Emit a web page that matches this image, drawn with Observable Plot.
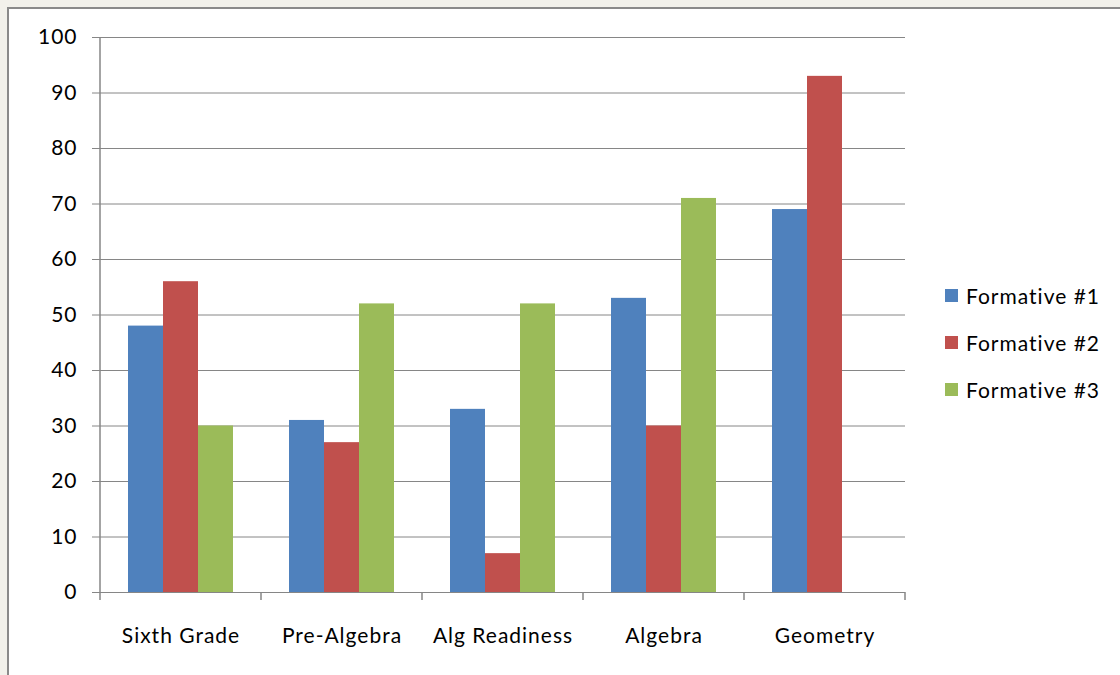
<!DOCTYPE html>
<html><head><meta charset="utf-8">
<script src="https://cdn.jsdelivr.net/npm/d3@7"></script>
<script src="https://cdn.jsdelivr.net/npm/@observablehq/plot@0.6"></script>
<style>
html,body{margin:0;padding:0;background:#f2f1eb;width:1120px;height:675px;overflow:hidden;font-family:Lato,sans-serif}
#frame{position:absolute;left:7px;top:7px;width:1200px;height:800px;background:#fff;border:2px solid #8a8a8a}
#chart{position:absolute;left:0;top:0}
#legend{position:absolute;left:945px;top:272px}
.item{display:flex;align-items:center;height:47px;font-size:21px;letter-spacing:1px;color:#000}
.sw{width:13px;height:13px;margin-right:8px}
svg text{letter-spacing:1px}
</style></head><body>
<div id="frame"></div><div id="chart"></div><div id="legend"></div>
<script>
const categories = ["Sixth Grade", "Pre-Algebra", "Alg Readiness", "Algebra", "Geometry"];
const seriesNames = ["Formative #1", "Formative #2", "Formative #3"];
const formative1 = [48, 31, 33, 53, 69];
const formative2 = [56, 27, 7, 30, 93];
const formative3 = [30, 52, 52, 71, null];
const colors = ["#4f81bd", "#c0504d", "#9bbb59"];
const yTicks = [0, 10, 20, 30, 40, 50, 60, 70, 80, 90, 100];

const rows = [];
[formative1, formative2, formative3].forEach((vals, s) =>
  vals.forEach((v, i) => { if (v != null) rows.push({category: categories[i], series: seriesNames[s], value: v}); })
);

const plot = Plot.plot({
  width: 1120, height: 675,
  marginLeft: 100, marginRight: 215, marginTop: 37, marginBottom: 83,
  style: {background: "transparent", fontFamily: "Lato, sans-serif", fontSize: "21px", color: "#000"},
  fx: {domain: categories, padding: 0, label: null},
  x: {domain: seriesNames, paddingInner: 0, paddingOuter: 0.755, axis: null},
  y: {domain: [0, 100], label: null},
  color: {domain: seriesNames, range: colors},
  marks: [
    Plot.gridY(yTicks, {stroke: "#868686", strokeOpacity: 1}),
    Plot.barY(rows, {fx: "category", x: "series", y: "value", fill: "series"}),
    Plot.ruleY([0], {stroke: "#868686"}),
    Plot.axisY(yTicks, {tickSize: 8, tickPadding: 15, stroke: "#868686", fill: "#000", label: null, fontSize: 21}),
    Plot.axisFx({anchor: "bottom", tickSize: 0, tickPadding: 36, label: null, fontSize: 21, fill: "#000"})
  ]
});

// category boundary ticks and y axis line from the library's scales
const fx = plot.scale("fx");
const y = plot.scale("y");
const edges = categories.map(c => fx.apply(c));
edges.push(fx.apply(categories[categories.length - 1]) + fx.step);
const g = d3.select(plot).append("g").attr("stroke", "#868686").attr("stroke-width", 1.5);
const y0 = y.apply(0), y100 = y.apply(100);
edges.forEach(e => g.append("line").attr("x1", e).attr("x2", e).attr("y1", y0).attr("y2", y0 + 8));
g.append("line").attr("x1", edges[0]).attr("x2", edges[0]).attr("y1", y100).attr("y2", y0);

document.getElementById("chart").appendChild(plot);

const legend = d3.select("#legend");
seriesNames.forEach((s, i) => {
  const it = legend.append("div").attr("class", "item");
  it.append("div").attr("class", "sw").style("background", colors[i]);
  it.append("span").text(s);
});
</script>
</body></html>
